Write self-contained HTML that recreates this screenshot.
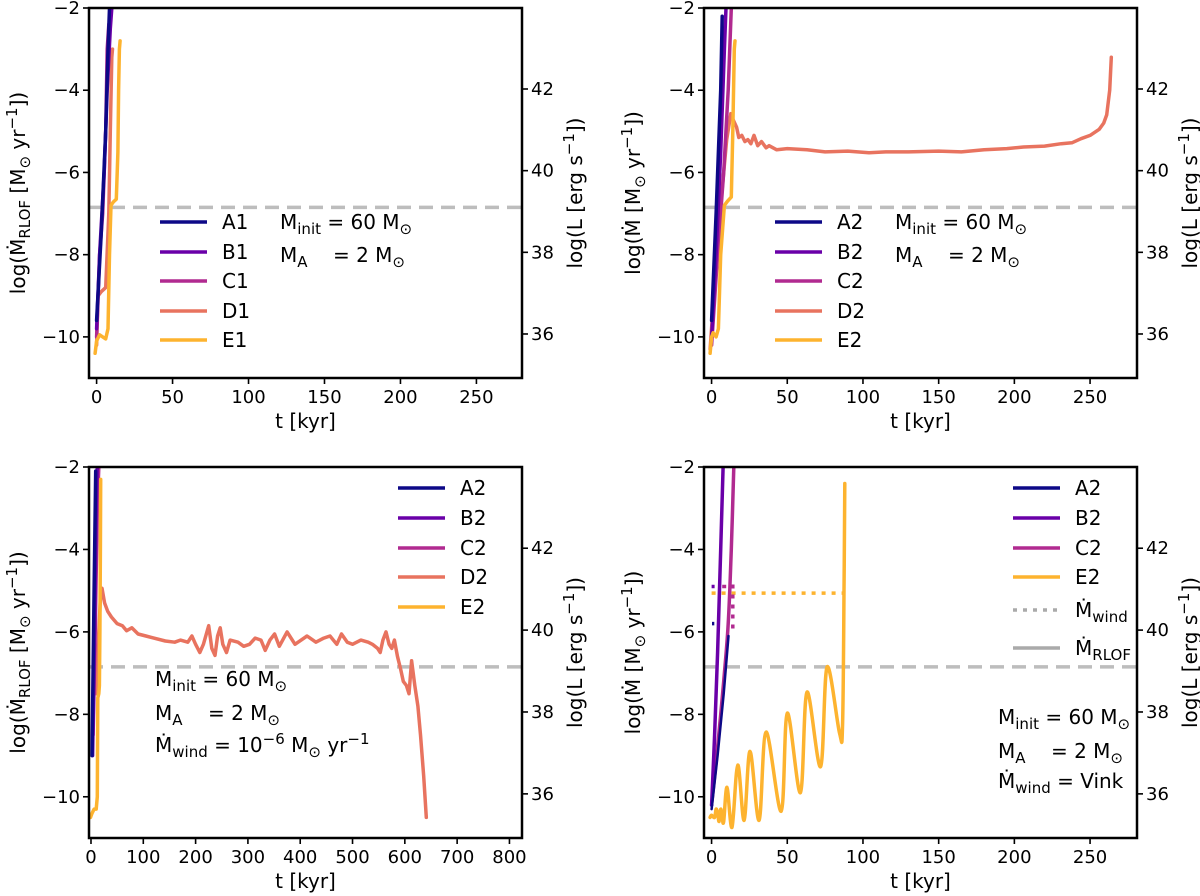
<!DOCTYPE html>
<html><head><meta charset="utf-8">
<style>
html,body{margin:0;padding:0;background:#fff;}
svg{display:block;font-family:"DejaVu Sans","Liberation Sans",sans-serif;}
</style></head>
<body>
<svg id="fig" width="1200" height="896" viewBox="0 0 1200 896" xmlns="http://www.w3.org/2000/svg"></svg>
<script>
const cA="#0d0887", cB="#6a00a8", cC="#b12a90", cD="#e8735f", cE="#fdb32f";
const yTicks=[-10,-8,-6,-4,-2];
const yTickLabels=["\u221210","\u22128","\u22126","\u22124","\u22122"];
const rTicks=[36,38,40,42];
const xTicks250=[0,50,100,150,200,250];
const xTicks800=[0,100,200,300,400,500,600,700,800];
const eddington=-6.85;
// top-left
const tlA1_t=[0,3,6,7.5,8.5];       const tlA1_y=[-9.6,-7.5,-5,-3,-2];
const tlB1_t=[0,2,5,7,9,10];        const tlB1_y=[-9.8,-8,-6,-4,-2.5,-2];
const tlC1_t=[0,2,4,6,7,8];         const tlC1_y=[-10,-8,-7,-5,-3,-2.4];
const tlD1_t=[0,1,3,6,8,9,10,10.5]; const tlD1_y=[-10.2,-9,-8.9,-8.8,-7,-5,-3.2,-3];
const tlE1_t=[-1,0,2,4,6,7.5,8.5,9.5,11,13,14,14.5,15,15.5];
const tlE1_y=[-10.4,-10.1,-9.95,-10,-10.05,-9.8,-8,-6.8,-6.72,-6.65,-5.5,-4,-3,-2.8];
// top-right
const trA2_t=[0,3,6,7];             const trA2_y=[-9.6,-7,-4,-2.2];
const trB2_t=[0,3,6,8.5,9.5];       const trB2_y=[-10,-8,-5.5,-3,-2];
const trC2_t=[0,4,8,11,13];         const trC2_y=[-10.2,-8,-6,-4,-2];
const trD2_t=[-1,3,7,10,12.7,14,16.5,18,20,22,24,26,28,30.5,33,36,38,43,50,63,75,90,104,115,130,150,165,180,195,206,220,231,238,244,250,256,259,261,263,264];
const trD2_y=[-10.3,-8.2,-6.4,-5.2,-4.57,-4.7,-4.9,-5.15,-5.1,-5.25,-5.2,-5.3,-5.1,-5.35,-5.25,-5.4,-5.35,-5.45,-5.42,-5.45,-5.5,-5.48,-5.52,-5.5,-5.5,-5.48,-5.5,-5.45,-5.42,-5.38,-5.36,-5.3,-5.28,-5.18,-5.1,-4.95,-4.8,-4.6,-4,-3.2];
const trE2_t=[-1,0,1,3,4.5,6,8.5,10.5,13,14,15,15.5];
const trE2_y=[-10.4,-10,-9.9,-10,-9.8,-8,-6.8,-6.7,-6.6,-5,-3,-2.8];
// bottom-left
const blA2_t=[2,6,9];               const blA2_y=[-9,-5,-2.1];
const blB2_t=[3,7,10,12];           const blB2_y=[-9,-6,-3,-2];
const blC2_t=[4,8,12,15];           const blC2_y=[-8.5,-6,-3,-2];
const blD2_t=[10,15,18,21,26,32,39,50,60,68,78,90,105,120,142,160,171,185,193,200,208,215,225,231,237,242,247,252,259,266,281,292,303,314,325,333,342,351,360,375,390,413,430,445,457,470,479,490,500,516,530,538,548,553,558,564,570,575,580,586,592,597,603,608,613,619,625,630,636,641];
const blD2_y=[-7.5,-6,-5.2,-4.94,-5.3,-5.5,-5.64,-5.8,-5.85,-5.97,-5.9,-6.05,-6.1,-6.15,-6.22,-6.25,-6.2,-6.25,-6.1,-6.3,-6.5,-6.3,-5.85,-6.4,-6.57,-6.1,-5.9,-6.3,-6.5,-6.2,-6.25,-6.35,-6.3,-6.15,-6.2,-6.45,-6.2,-6.05,-6.35,-6.0,-6.3,-6.1,-6.25,-6.15,-6.1,-6.3,-6.05,-6.25,-6.3,-6.2,-6.25,-6.3,-6.4,-6.5,-6.2,-6.0,-6.3,-6.4,-6.2,-6.6,-6.9,-7.2,-7.3,-7.5,-6.7,-7.3,-7.8,-8.5,-9.5,-10.5];
const blE2_t=[-1,2,6,10,12,13,15,16,17,18,18.6];
const blE2_y=[-10.5,-10.4,-10.3,-10.3,-10,-7.6,-7.5,-7.3,-6,-4,-2.3];
// bottom-right
const brA2_t=[0,4,8,11.2];          const brA2_y=[-10.3,-9,-7.5,-6.1];
const brB2_t=[0,2,4,6,7.6];         const brB2_y=[-10.2,-8.5,-6.5,-4,-2];
const brC2_t=[0,4,8,11,13,14.7];    const brC2_y=[-10.2,-8.8,-7.2,-5.8,-4,-2];
const brE2_t=[-1,0,2,3,4,5,6,7,8,10.2,13.5,17.3,21.5,25.4,31.4,36,46,50,58.7,63,72,76.3,84.5,86.5,87.5,88];
const brE2_y=[-10.5,-10.45,-10.5,-10.3,-10.4,-10.6,-10.3,-10.5,-10.6,-9.77,-10.74,-9.23,-10.57,-8.9,-10.57,-8.43,-10.35,-7.97,-9.9,-7.46,-9.27,-6.85,-8.45,-8.3,-5,-2.4];
const brE2wind_t=[0,88];            const brE2wind_y=[-5.06,-5.06];
const brB2wind_t=[0,2];             const brB2wind_y=[-4.9,-4.9];
const brA2wind_t=[0.3,1.8];         const brA2wind_y=[-5.8,-5.8];
const brC2wind_t=[14,14];           const brC2wind_y=[-4.85,-5.95];
const brC2wind2_t=[7,14];           const brC2wind2_y=[-4.9,-4.9];

const NS="http://www.w3.org/2000/svg";
const fig=document.getElementById('fig');
function el(tag,attrs,parent){const e=document.createElementNS(NS,tag);for(const k in attrs)e.setAttribute(k,attrs[k]);(parent||fig).appendChild(e);return e;}
function richText(parent,x,y,parts,size,anchor,rotate){
  const t=el('text',{x:x,y:y,'font-size':size,fill:'#000','text-anchor':anchor||'start'},parent);
  t.setAttribute('xml:space','preserve');
  if(rotate)t.setAttribute('transform','rotate(-90 '+x+' '+y+')');
  parts.forEach(p=>{
    const s=el('tspan',{},t);
    if(p.sub){s.setAttribute('font-size',size*0.75);s.setAttribute('dy',size*0.26);}
    if(p.sup){s.setAttribute('font-size',size*0.75);s.setAttribute('dy',-size*0.4);}
    if(p.back!==undefined){s.setAttribute('dy',p.back);}
    s.textContent=p.s;
  });
  return t;
}
function pathD(px,py,smooth){
  if(!smooth) return px.map((x,i)=>(i?'L':'M')+x.toFixed(1)+' '+py[i].toFixed(1)).join(' ');
  let d='M'+px[0].toFixed(1)+' '+py[0].toFixed(1);
  for(let i=0;i<px.length-1;i++){
    const x0=px[Math.max(i-1,0)],y0=py[Math.max(i-1,0)],x1=px[i],y1=py[i],x2=px[i+1],y2=py[i+1];
    const x3=px[Math.min(i+2,px.length-1)],y3=py[Math.min(i+2,px.length-1)];
    const c1x=x1+(x2-x0)/6,c1y=y1+(y2-y0)/6,c2x=x2-(x3-x1)/6,c2y=y2-(y3-y1)/6;
    d+=' C'+c1x.toFixed(1)+' '+c1y.toFixed(1)+' '+c2x.toFixed(1)+' '+c2y.toFixed(1)+' '+x2.toFixed(1)+' '+y2.toFixed(1);
  }
  return d;
}
const TF=18, LF=20;
function panel(id,cfg){
  const g=el('g',{});
  
  
  const L=cfg.L,R=cfg.R,T=cfg.T,B=cfg.B;
  const sx=v=>L+(v-cfg.xmin)/(cfg.xmax-cfg.xmin)*(R-L);
  const sy=v=>T+(-2-v)/9*(B-T);
  const sr=v=>T+(B-T)*(81+(42-v)*40.83)/370;
  const clip=el('clipPath',{id:'c'+id},g);
  el('rect',{x:L,y:T,width:R-L,height:B-T},clip);
  const plot=el('g',{'clip-path':'url(#c'+id+')'},g);
  
  
  const ed=el('line',{x1:L,x2:R,y1:sy(eddington),y2:sy(eddington),stroke:'#bdbdbd','stroke-width':3.5,'stroke-dasharray':'14 8'},plot);
  
  
  cfg.series.forEach(s=>{
    const d=pathD(s.t.map(sx),s.y.map(sy),s.smooth);
    const p=el('path',{d:d,fill:'none',stroke:s.c,'stroke-width':s.w||3.5,'stroke-linejoin':'round','stroke-linecap':s.dot?'butt':'round'},plot);
    if(s.dot)p.setAttribute('stroke-dasharray','4 6');
    
    
  });
  const fr=el('rect',{x:L,y:T,width:R-L,height:B-T,fill:'none',stroke:'#000','stroke-width':2.5},g);
  
  
  cfg.xticks.forEach(v=>{
    el('line',{x1:sx(v),x2:sx(v),y1:B,y2:B+6,stroke:'#000','stroke-width':1.6},g);
    const t=el('text',{x:sx(v),y:B+25,'font-size':TF,'text-anchor':'middle'},g);
    
    
    t.textContent=v;
  });
  yTicks.forEach((v,i)=>{
    el('line',{x1:L-6,x2:L,y1:sy(v),y2:sy(v),stroke:'#000','stroke-width':1.6},g);
    const t=el('text',{x:L-9,y:sy(v)+6,'font-size':TF,'text-anchor':'end'},g);
    
    
    t.textContent=yTickLabels[i];
  });
  rTicks.forEach(v=>{
    el('line',{x1:R,x2:R+6,y1:sr(v),y2:sr(v),stroke:'#000','stroke-width':1.6},g);
    const t=el('text',{x:R+9,y:sr(v)+6,'font-size':TF},g);
    
    
    t.textContent=v;
  });
  const xl=richText(g,(L+R)/2,B+50,[{s:'t [kyr]'}],LF,'middle');
  
  
  const yl=richText(g,L-64,(T+B)/2,cfg.ylab,LF,'middle',true);
  
  
  const rl=richText(g,R+60,(T+B)/2,[{s:'log(L [erg s'},{s:'\u22121',sup:1},{s:'])',back:8}],LF,'middle',true);
  
  
  const lg=el('g',{},g);
  
  
  cfg.legend.forEach((e,i)=>{
    const y=cfg.lgY[i];
    const ln=el('line',{x1:cfg.lgX,x2:cfg.lgX+47,y1:y,y2:y,stroke:e.c,'stroke-width':3.5},lg);
    if(e.dot)ln.setAttribute('stroke-dasharray','4 6');
    const t=richText(lg,cfg.lgX+62,y+7,e.label,LF);
    
    
  });
  cfg.notes.forEach(n=>{
    const t=richText(g,n.x,n.y,n.parts,LF,n.anchor);
    
    
  });
}
const ylRLOF=[{s:'log(\u1E40'},{s:'RLOF',sub:1},{s:' [M',back:-5.2},{s:'\u2299',sub:1},{s:' yr',back:-5.2},{s:'\u22121',sup:1},{s:'])',back:8}];
const ylM=[{s:'log(\u1E40 [M'},{s:'\u2299',sub:1},{s:' yr',back:-5.2},{s:'\u22121',sup:1},{s:'])',back:8}];
const noteInit=[{s:'M'},{s:'init',sub:1},{s:' = 60 M',back:-5.2},{s:'\u2299',sub:1}];
const noteA=[{s:'M'},{s:'A',sub:1},{s:'\u00a0\u00a0\u00a0\u00a0= 2 M',back:-5.2},{s:'\u2299',sub:1}];
const noteW6=[{s:'\u1E40'},{s:'wind',sub:1},{s:' = 10',back:-5.2},{s:'\u22126',sup:1},{s:' M',back:8},{s:'\u2299',sub:1},{s:' yr',back:-5.2},{s:'\u22121',sup:1}];
const noteWV=[{s:'\u1E40'},{s:'wind',sub:1},{s:' = Vink',back:-5.2}];
const lbl=s=>[{s:s}];
const leg5=(a,b,c,d,e)=>[{c:cA,label:lbl(a)},{c:cB,label:lbl(b)},{c:cC,label:lbl(c)},{c:cD,label:lbl(d)},{c:cE,label:lbl(e)}];
const rowsTop=[222,252,281,311,340];
const rowsBot=[488,518,548,577,607];

panel('panel-top-left',{L:89,R:522,T:8,B:378,xmin:-5,xmax:280,xticks:xTicks250,ylab:ylRLOF,
  series:[{name:'line-D1',t:tlD1_t,y:tlD1_y,c:cD},{name:'line-C1',t:tlC1_t,y:tlC1_y,c:cC},{name:'line-B1',t:tlB1_t,y:tlB1_y,c:cB},{name:'line-A1',t:tlA1_t,y:tlA1_y,c:cA},{name:'line-E1',t:tlE1_t,y:tlE1_y,c:cE}],
  legend:leg5('A1','B1','C1','D1','E1'),lgX:160,lgY:rowsTop,
  notes:[{x:280,y:229,parts:noteInit},{x:280,y:262,parts:noteA}]});

panel('panel-top-right',{L:704,R:1137,T:8,B:378,xmin:-5,xmax:281,xticks:xTicks250,ylab:ylM,
  series:[{name:'line-D2',t:trD2_t,y:trD2_y,c:cD},{name:'line-C2',t:trC2_t,y:trC2_y,c:cC},{name:'line-B2',t:trB2_t,y:trB2_y,c:cB},{name:'line-A2',t:trA2_t,y:trA2_y,c:cA},{name:'line-E2',t:trE2_t,y:trE2_y,c:cE}],
  legend:leg5('A2','B2','C2','D2','E2'),lgX:775,lgY:rowsTop,
  notes:[{x:895,y:229,parts:noteInit},{x:895,y:262,parts:noteA}]});

panel('panel-bottom-left',{L:89,R:522,T:467,B:838,xmin:-3.8,xmax:824,xticks:xTicks800,ylab:ylRLOF,
  series:[{name:'line-D2',t:blD2_t,y:blD2_y,c:cD},{name:'line-C2',t:blC2_t,y:blC2_y,c:cC},{name:'line-B2',t:blB2_t,y:blB2_y,c:cB},{name:'line-A2',t:blA2_t,y:blA2_y,c:cA},{name:'line-E2',t:blE2_t,y:blE2_y,c:cE}],
  legend:leg5('A2','B2','C2','D2','E2'),lgX:398,lgY:rowsBot,
  notes:[{x:155,y:686,parts:noteInit},{x:155,y:720,parts:noteA},{x:155,y:752,parts:noteW6}]});

panel('panel-bottom-right',{L:704,R:1137,T:467,B:838,xmin:-5,xmax:281,xticks:xTicks250,ylab:ylM,
  series:[{name:'line-C2',t:brC2_t,y:brC2_y,c:cC,smooth:1},{name:'line-B2',t:brB2_t,y:brB2_y,c:cB,smooth:1},{name:'line-A2',t:brA2_t,y:brA2_y,c:cA,w:2.5},{name:'line-E2',t:brE2_t,y:brE2_y,c:cE,smooth:1},
    {name:'wind-E2',t:brE2wind_t,y:brE2wind_y,c:cE,dot:1},{name:'wind-B2',t:brB2wind_t,y:brB2wind_y,c:cB,dot:1},{name:'wind-A2',t:brA2wind_t,y:brA2wind_y,c:cA,dot:1},{name:'wind-C2',t:brC2wind_t,y:brC2wind_y,c:cC,dot:1},{name:'wind-C2-top',t:brC2wind2_t,y:brC2wind2_y,c:cC,dot:1}],
  legend:[{c:cA,label:lbl('A2')},{c:cB,label:lbl('B2')},{c:cC,label:lbl('C2')},{c:cE,label:lbl('E2')},
    {c:'#aaaaaa',dot:1,label:[{s:'\u1E40'},{s:'wind',sub:1}]},{c:'#aaaaaa',label:[{s:'\u1E40'},{s:'RLOF',sub:1}]}],
  lgX:1013,lgY:[488,518,548,577,610,648],
  notes:[{x:998,y:724,parts:noteInit},{x:998,y:758,parts:noteA},{x:998,y:788,parts:noteWV}]});
</script>
</body></html>
